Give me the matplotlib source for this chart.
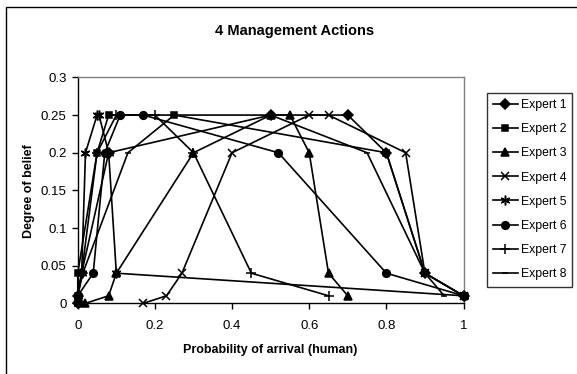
import matplotlib
matplotlib.use('Agg')
import matplotlib.pyplot as plt
import matplotlib.patches as patches

plt.rcParams['font.family'] = ['Liberation Sans', 'DejaVu Sans']

# degree of belief levels shared by all experts
belief = [0, 0.01, 0.04, 0.2, 0.25, 0.25, 0.2, 0.04, 0.01]

expert_1 = [0, 0, 0.01, 0.08, 0.5, 0.7, 0.8, 0.9, 1.0]
expert_2 = [0, 0, 0, 0.05, 0.08, 0.25, 0.8, 0.9, 1.0]
expert_3 = [0.02, 0.08, 0.1, 0.3, 0.5, 0.55, 0.6, 0.65, 0.7]
expert_4 = [0.17, 0.23, 0.27, 0.4, 0.6, 0.65, 0.85, 0.9, 1.0]
expert_5 = [0, 0, 0.01, 0.02, 0.05, 0.055, 0.08, 0.1, 1.0]
expert_6 = [0, 0, 0.04, 0.07, 0.11, 0.17, 0.52, 0.8, 1.0]
expert_7 = [0, 0, 0.01, 0.05, 0.1, 0.2, 0.3, 0.45, 0.65]
expert_8 = [0, 0, 0.013, 0.13, 0.25, 0.5, 0.75, 0.9, 0.95]

names = ['Expert 1', 'Expert 2', 'Expert 3', 'Expert 4',
         'Expert 5', 'Expert 6', 'Expert 7', 'Expert 8']
series = [expert_1, expert_2, expert_3, expert_4,
          expert_5, expert_6, expert_7, expert_8]
markers = ['D', 's', '^', 'x', (6, 2, 0), 'o', '+', '_']
sizes = [5, 5, 6, 6, 7, 5.5, 7, 5]

fig = plt.figure(figsize=(5.77, 3.74), dpi=100)
ax = fig.add_axes([0.1348, 0.189, 0.6685, 0.604])

for xs, name, m, s in zip(series, names, markers, sizes):
    ax.plot(xs, belief, color='black', lw=1.2, marker=m, markersize=s,
            markerfacecolor='black', markeredgecolor='black', mew=1.1,
            label=name, clip_on=False, zorder=3)

ax.set_xlim(0, 1)
ax.set_ylim(0, 0.3)
ax.set_xticks([0, 0.2, 0.4, 0.6, 0.8, 1.0])
ax.set_xticklabels(['0', '0.2', '0.4', '0.6', '0.8', '1'])
ax.set_yticks([0, 0.05, 0.1, 0.15, 0.2, 0.25, 0.3])
ax.set_yticklabels(['0', '0.05', '0.1', '0.15', '0.2', '0.25', '0.3'])
ax.tick_params(direction='out', length=4, width=1, labelsize=9.5, pad=4)
ax.tick_params(axis='x', pad=8)
for side in ['top', 'right']:
    ax.spines[side].set_color('#808080')
    ax.spines[side].set_linewidth(1)
for side in ['left', 'bottom']:
    ax.spines[side].set_color('black')
    ax.spines[side].set_linewidth(1)

fig.text(0.51, 0.918, '4 Management Actions', ha='center', va='center',
         fontsize=10.5, fontweight='bold')
fig.text(0.468, 0.064, 'Probability of arrival (human)', ha='center',
         va='center', fontsize=9, fontweight='bold')
fig.text(0.051, 0.49, 'Degree of belief', ha='center', va='center',
         rotation=90, fontsize=9, fontweight='bold')

leg = fig.legend(loc='upper left', bbox_to_anchor=(0.844, 0.752),
                 fontsize=8.8, frameon=True, fancybox=False, handlelength=2.0,
                 labelspacing=1.0, borderpad=0.5, handletextpad=0.25,
                 borderaxespad=0)
leg.get_frame().set_edgecolor('black')
leg.get_frame().set_linewidth(1)

# outer chart frame (only left and top edges fall inside the image)
fig.patches.append(patches.Rectangle((5.5 / 577, -0.1), 2, 1.1 - 6.7 / 374,
                                     transform=fig.transFigure, fill=False,
                                     edgecolor='black', lw=1))

fig.savefig('out.png', dpi=100)
